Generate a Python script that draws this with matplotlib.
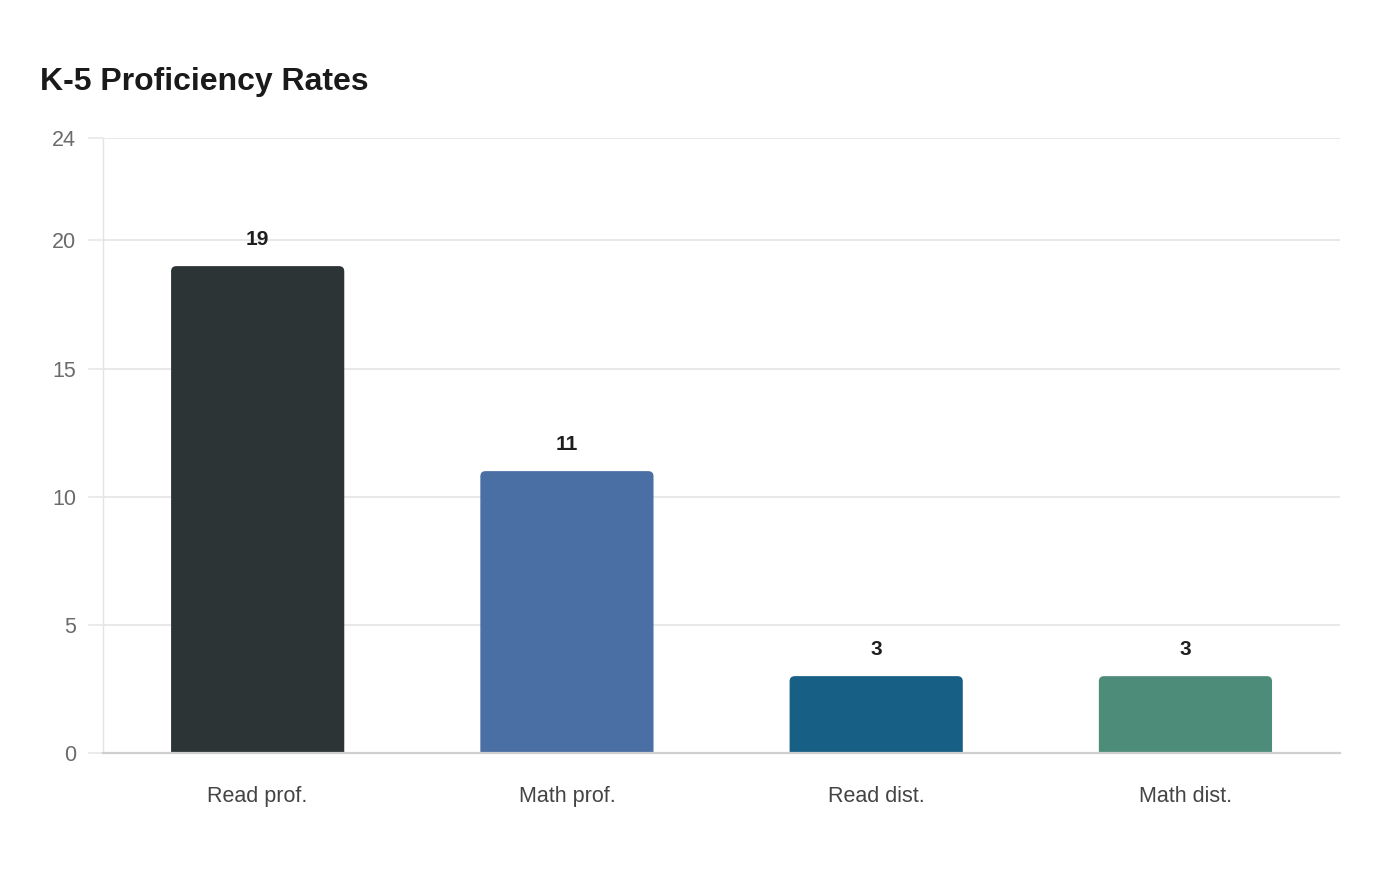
import matplotlib
matplotlib.use("Agg")
import matplotlib.pyplot as plt
from matplotlib.patches import FancyBboxPatch

plt.rcParams["font.family"] = ["Liberation Sans", "DejaVu Sans"]

categories = ["Read prof.", "Math prof.", "Read dist.", "Math dist."]
values = [19, 11, 3, 3]
colors = ["#2d3436", "#4a6fa5", "#175f85", "#4e8c7a"]
yticks = [0, 5, 10, 15, 20, 24]

fig = plt.figure(figsize=(14, 8.8), dpi=100)
ax = fig.add_axes([0.0736, 0.1443, 0.8836, 0.6989])

bars = ax.bar(range(len(categories)), values, width=0.56, color=colors, zorder=3)

# swap plain bars for ones with rounded top corners; the part below 0 is clipped
for b, c in zip(bars, colors):
    b.set_visible(False)
    x0, w, h = b.get_x(), b.get_width(), b.get_height()
    ax.add_patch(FancyBboxPatch((x0, -1), w, h + 1,
                                boxstyle="round,pad=0,rounding_size=0.017",
                                mutation_aspect=12, facecolor=c,
                                edgecolor="none", zorder=3))
    ax.annotate(str(int(h)), (x0 + w / 2, h), xytext=(0, 12.5),
                textcoords="offset points", ha="center", va="bottom",
                fontsize=15, fontweight="bold", color="#1e1e1e")

ax.set_xlim(-0.5, len(categories) - 0.5)
ax.set_ylim(0, 24)
ax.set_yticks(yticks)
ax.set_xticks(range(len(categories)))
ax.set_xticklabels(categories)

ax.grid(axis="y", color="#e8e8e8", linewidth=1.4, zorder=0)
ax.set_axisbelow(True)

for side in ["top", "right"]:
    ax.spines[side].set_visible(False)
ax.spines["left"].set_color("#e4e4e4")
ax.spines["left"].set_linewidth(1.0)
ax.spines["bottom"].set_color("#cfcfcf")
ax.spines["bottom"].set_linewidth(1.6)
ax.spines["bottom"].set_zorder(4)

ax.tick_params(axis="y", length=11, width=1.2, color="#e8e8e8",
               labelsize=15.5, labelcolor="#6b6b6b", pad=8.5)
ax.tick_params(axis="x", length=0, labelsize=15.5, labelcolor="#444444", pad=24)

fig.text(40 / 1400, 1 - 90 / 880, "K-5 Proficiency Rates", fontsize=23,
         fontweight="bold", color="#1a1a1a", ha="left", va="baseline")

fig.savefig("out.png", dpi=100, facecolor="white")
